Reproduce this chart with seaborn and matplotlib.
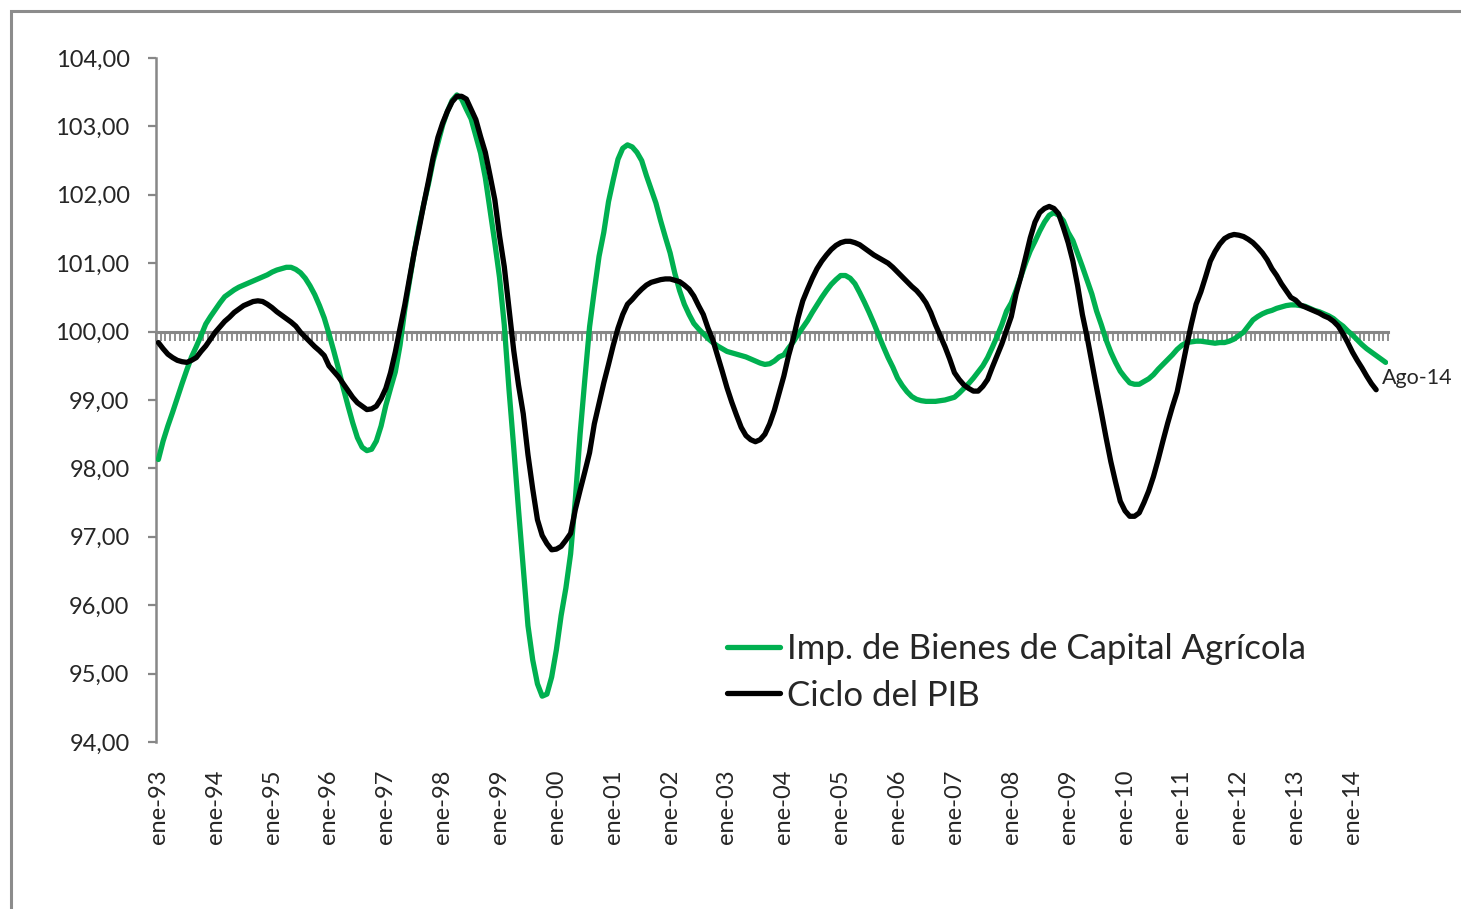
import numpy as np
import pandas as pd
import matplotlib
matplotlib.use("Agg")
import matplotlib.pyplot as plt
from matplotlib.patches import Rectangle
import seaborn as sns

# ---------------- data ----------------
year_labels = ["ene-93", "ene-94", "ene-95", "ene-96", "ene-97", "ene-98", "ene-99",
               "ene-00", "ene-01", "ene-02", "ene-03", "ene-04", "ene-05", "ene-06",
               "ene-07", "ene-08", "ene-09", "ene-10", "ene-11", "ene-12", "ene-13",
               "ene-14"]

imp_bienes_capital = [
    98.13, 98.40, 98.62, 98.82, 99.03, 99.24, 99.44, 99.63, 99.78, 99.94, 100.11, 100.22,
    100.32, 100.42, 100.51, 100.56, 100.61, 100.65, 100.68, 100.71, 100.74, 100.77, 100.80, 100.83,
    100.87, 100.90, 100.92, 100.94, 100.94, 100.91, 100.86, 100.78, 100.67, 100.54, 100.38, 100.20,
    99.97, 99.72, 99.46, 99.18, 98.92, 98.67, 98.45, 98.31, 98.26, 98.28, 98.40, 98.62,
    98.92, 99.17, 99.41, 99.80, 100.32, 100.74, 101.16, 101.54, 101.86, 102.16, 102.50, 102.76,
    103.02, 103.22, 103.38, 103.46, 103.40, 103.25, 103.11, 102.86, 102.61, 102.25, 101.78, 101.30,
    100.79, 100.10, 99.15, 98.30, 97.40, 96.55, 95.70, 95.20, 94.85, 94.67, 94.70, 94.95,
    95.35, 95.85, 96.25, 96.75, 97.55, 98.50, 99.30, 100.07, 100.60, 101.10, 101.45, 101.90,
    102.22, 102.52, 102.68, 102.73, 102.70, 102.62, 102.50, 102.28, 102.08, 101.88, 101.62, 101.38,
    101.15, 100.85, 100.60, 100.40, 100.25, 100.12, 100.04, 99.97, 99.90, 99.84, 99.79, 99.75,
    99.71, 99.69, 99.67, 99.65, 99.63, 99.60, 99.57, 99.54, 99.52, 99.53, 99.57, 99.63,
    99.66, 99.76, 99.85, 99.96, 100.06, 100.16, 100.28, 100.39, 100.50, 100.60, 100.69, 100.76,
    100.82, 100.82, 100.78, 100.70, 100.57, 100.43, 100.28, 100.12, 99.95, 99.78, 99.62, 99.48,
    99.32, 99.21, 99.12, 99.05, 99.01, 98.99, 98.98, 98.98, 98.98, 98.99, 99.00, 99.02,
    99.04, 99.10, 99.17, 99.24, 99.32, 99.41, 99.50, 99.62, 99.77, 99.93, 100.10, 100.30,
    100.42, 100.60, 100.80, 101.00, 101.18, 101.32, 101.47, 101.60, 101.70, 101.74, 101.70, 101.62,
    101.45, 101.33, 101.14, 100.95, 100.75, 100.55, 100.30, 100.10, 99.88, 99.70, 99.55, 99.42,
    99.33, 99.25, 99.23, 99.23, 99.27, 99.31, 99.37, 99.45, 99.52, 99.59, 99.66, 99.74,
    99.80, 99.84, 99.85, 99.86, 99.86, 99.85, 99.84, 99.83, 99.84, 99.84, 99.86, 99.89,
    99.94, 99.99, 100.08, 100.17, 100.22, 100.26, 100.29, 100.31, 100.34, 100.36, 100.38, 100.39,
    100.39, 100.38, 100.37, 100.34, 100.31, 100.29, 100.26, 100.23, 100.19, 100.13, 100.08, 100.01,
    99.95, 99.88, 99.81, 99.75, 99.70, 99.65, 99.60, 99.55,
]

ciclo_pib = [
    99.84, 99.75, 99.67, 99.62, 99.58, 99.56, 99.55, 99.58, 99.62, 99.71, 99.79, 99.89,
    99.99, 100.07, 100.15, 100.21, 100.28, 100.33, 100.38, 100.41, 100.44, 100.45, 100.44, 100.40,
    100.35, 100.29, 100.24, 100.19, 100.14, 100.08, 99.99, 99.92, 99.85, 99.78, 99.72, 99.65,
    99.50, 99.42, 99.34, 99.24, 99.14, 99.04, 98.96, 98.91, 98.86, 98.87, 98.91, 99.02,
    99.17, 99.40, 99.70, 100.05, 100.39, 100.78, 101.16, 101.50, 101.86, 102.20, 102.55, 102.84,
    103.05, 103.22, 103.36, 103.44, 103.44, 103.40, 103.25, 103.10, 102.85, 102.62, 102.28, 101.93,
    101.40, 100.95, 100.34, 99.72, 99.22, 98.80, 98.20, 97.70, 97.25, 97.02, 96.90, 96.81,
    96.82, 96.86, 96.95, 97.05, 97.40, 97.68, 97.95, 98.23, 98.65, 98.95, 99.25, 99.52,
    99.80, 100.05, 100.25, 100.40, 100.47, 100.55, 100.62, 100.68, 100.72, 100.74, 100.76, 100.77,
    100.77, 100.75, 100.73, 100.68, 100.62, 100.52, 100.38, 100.25, 100.05, 99.88, 99.65, 99.42,
    99.18, 98.97, 98.78, 98.60, 98.48, 98.42, 98.39, 98.42, 98.50, 98.65, 98.85, 99.10,
    99.35, 99.65, 99.90, 100.20, 100.45, 100.62, 100.78, 100.92, 101.03, 101.12, 101.20, 101.26,
    101.30, 101.32, 101.32, 101.30, 101.27, 101.22, 101.17, 101.12, 101.08, 101.04, 101.00, 100.94,
    100.87, 100.80, 100.73, 100.66, 100.60, 100.52, 100.42, 100.28, 100.10, 99.94, 99.78, 99.60,
    99.40, 99.30, 99.22, 99.17, 99.13, 99.13, 99.20, 99.30, 99.48, 99.65, 99.82, 100.02,
    100.22, 100.55, 100.80, 101.08, 101.37, 101.60, 101.74, 101.80, 101.83, 101.80, 101.72, 101.52,
    101.30, 101.03, 100.67, 100.25, 99.92, 99.55, 99.18, 98.82, 98.45, 98.10, 97.80, 97.52,
    97.38, 97.30, 97.30, 97.35, 97.50, 97.67, 97.88, 98.13, 98.40, 98.66, 98.90, 99.12,
    99.45, 99.79, 100.11, 100.40, 100.58, 100.80, 101.03, 101.17, 101.28, 101.36, 101.40, 101.42,
    101.41, 101.39, 101.35, 101.30, 101.23, 101.15, 101.05, 100.92, 100.82, 100.70, 100.60, 100.50,
    100.46, 100.39, 100.36, 100.33, 100.30, 100.27, 100.23, 100.20, 100.15, 100.08, 99.97, 99.84,
    99.70, 99.58, 99.47, 99.35, 99.24, 99.15,
]

serie_verde = "Imp. de Bienes de Capital Agrícola"
serie_negra = "Ciclo del PIB"
etiqueta_final = "Ago-14"

df = pd.concat([
    pd.DataFrame({"mes": np.arange(len(imp_bienes_capital)),
                  "valor": imp_bienes_capital, "serie": serie_verde}),
    pd.DataFrame({"mes": np.arange(len(ciclo_pib)),
                  "valor": ciclo_pib, "serie": serie_negra}),
], ignore_index=True)

# ---------------- style ----------------
sns.set_style("white")
plt.rcParams["font.family"] = ["Lato", "DejaVu Sans"]

W, H = 1461, 909
fig = plt.figure(figsize=(W / 100, H / 100), dpi=100)
ax = fig.add_axes([156 / W, (H - 742) / H, (1388 - 156) / W, (742 - 58) / H])

GRAY = "#878787"
palette = {serie_verde: "#00B050", serie_negra: "#000000"}

sns.lineplot(data=df, x="mes", y="valor", hue="serie", palette=palette,
             linewidth=3.8, ax=ax, legend=True, sort=False)
for ln in ax.get_lines():
    ln.set_solid_capstyle("round")
    ln.set_solid_joinstyle("round")
    ln.set_zorder(3)

n = len(imp_bienes_capital)
ax.set_xlim(-0.5, n - 0.5)
ax.set_ylim(94, 104)

# y axis
yt = np.arange(94, 104.01, 1)
ax.set_yticks(yt)
ax.set_yticklabels([f"{v:.2f}".replace(".", ",") for v in yt])
ax.tick_params(axis="y", direction="out", length=6, width=1.6, color=GRAY,
               labelsize=17, pad=13, left=True)

# x labels at the bottom, no ticks
ax.set_xticks(np.arange(0, n, 12)[:len(year_labels)])
ax.set_xticklabels(year_labels, rotation=90, va="top", ha="center")
ax.tick_params(axis="x", length=0, labelsize=17, pad=20)
ax.set_xlabel("")
ax.set_ylabel("")

for s in ["top", "right", "bottom"]:
    ax.spines[s].set_visible(False)
ax.spines["left"].set_color(GRAY)
ax.spines["left"].set_linewidth(1.8)

# horizontal category axis crossing at 100 with monthly tick marks hanging down
sec = ax.secondary_xaxis((100 - 94) / (104 - 94))
sec.set_xticks(np.arange(-0.5, n, 1))
sec.tick_params(direction="in", length=6.5, width=1.3, color=GRAY,
                labelbottom=False, labeltop=False)
sec.set_xticklabels([])
for sp in sec.spines.values():
    sp.set_color(GRAY)
    sp.set_linewidth(2.2)
sec.set_zorder(1)

# end label
ax.annotate(etiqueta_final, xy=(n - 1, imp_bienes_capital[-1]), xytext=(-4, -16),
            textcoords="offset pixels", ha="left", va="center", fontsize=15.5)

# legend
leg = ax.legend(loc="upper left", bbox_to_anchor=(727 / W, (H - 633) / H),
                bbox_transform=fig.transFigure, frameon=False, fontsize=25,
                handlelength=1.53, handletextpad=0.2, labelspacing=0.42, borderpad=0,
                borderaxespad=0)
for h in leg.get_lines():
    h.set_linewidth(3.8)

# outer frame
fig.patches.append(Rectangle((11 / W, -0.05), 1.2, (H - 11) / H + 0.05,
                             transform=fig.transFigure, fill=False,
                             edgecolor="#8c8c8c", linewidth=2.2))

fig.savefig("out.png", dpi=100)
